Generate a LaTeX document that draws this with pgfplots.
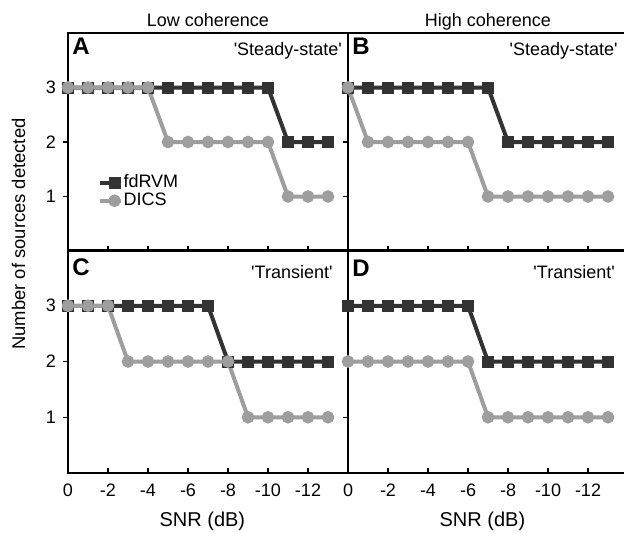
\documentclass[border=0pt]{standalone}
\usepackage{fontspec}
\setmainfont{Liberation Sans}
\newfontfamily\qfont{Liberation Sans}
\usepackage{pgfplots}
\pgfplotsset{compat=1.18}
\definecolor{dk}{gray}{0.2}
\definecolor{lt}{gray}{0.62}

\newcommand{\nf}{\fontsize{9}{10}\selectfont}

\tikzset{
  lab/.style={anchor=north west, inner sep=0pt, font=\fontsize{12}{12}\selectfont\bfseries},
  tag/.style={anchor=north east, inner sep=0pt, font=\nf\qfont},
}

\pgfplotsset{
  panel/.style={
    scale only axis, clip=false,
    x dir=reverse, xmin=-14, xmax=0, ymin=0, ymax=4,
    xtick={0,-2,-4,-6,-8,-10,-12}, ytick={1,2,3},
    xticklabels={0,-2,-4,-6,-8,-10,-12},
    yticklabels={1,2,3},
    xtick pos=bottom, ytick pos=left,
    major tick length=2.3pt,
    ytick style={xshift=-2.3pt},
    tick style={black, line width=0.6pt},
    axis line style={line width=0.6pt},
    every tick label/.append style={font=\nf},
    xticklabel style={anchor=base, yshift=-11.8pt},
    yticklabel style={xshift=-2.5pt},
    title style={at={(0.5,1)}, anchor=base, yshift=-2.5pt, font=\nf},
    xlabel style={at={(0.48,0)}, anchor=base, yshift=-26.5pt, font=\fontsize{10}{11}\selectfont},
  },
  fd/.style={dk, line width=2pt, mark=square*, mark size=2pt, mark options={solid}},
  dc/.style={lt, line width=2pt, mark=*, mark size=2.1pt, mark options={solid}},
}

\begin{document}
\begin{tikzpicture}
\useasboundingbox (0,0) rectangle (312pt,266pt);

% A
\begin{axis}[panel, at={(34pt,140.5pt)}, anchor=south west,
  width=140pt, height=109pt, xticklabels={},
  title={Low coherence},
  legend style={draw=none, fill=none, inner sep=0pt,
    at={(rel axis cs:0.104,0.272)}, anchor=west, row sep=0pt,
    nodes={inner sep=0.5pt, font=\nf}},
  legend cell align=left,
  legend image code/.code={\draw[#1, mark indices={2}] plot coordinates {(0pt,0pt) (7.5pt,0pt) (10.5pt,0pt)};},
]
\addplot[fd] coordinates {(0,3) (-1,3) (-2,3) (-3,3) (-4,3) (-5,3) (-6,3) (-7,3) (-8,3) (-9,3) (-10,3) (-11,2) (-12,2) (-13,2)};
\addplot[dc] coordinates {(0,3) (-1,3) (-2,3) (-3,3) (-4,3) (-5,2) (-6,2) (-7,2) (-8,2) (-9,2) (-10,2) (-11,1) (-12,1) (-13,1)};
\legend{fdRVM,DICS}
\node[lab] at (rel axis cs:0.014,0.977) {A};
\node[tag] at (rel axis cs:0.979,0.959) {'Steady-state'};
\end{axis}

% B
\begin{axis}[panel, at={(174pt,140.5pt)}, anchor=south west,
  width=140pt, height=109pt, xticklabels={}, yticklabels={},
  title={High coherence},
]
\addplot[fd] coordinates {(0,3) (-1,3) (-2,3) (-3,3) (-4,3) (-5,3) (-6,3) (-7,3) (-8,2) (-9,2) (-10,2) (-11,2) (-12,2) (-13,2)};
\addplot[dc] coordinates {(0,3) (-1,2) (-2,2) (-3,2) (-4,2) (-5,2) (-6,2) (-7,1) (-8,1) (-9,1) (-10,1) (-11,1) (-12,1) (-13,1)};
\node[lab] at (rel axis cs:0.014,0.977) {B};
\node[tag] at (rel axis cs:0.964,0.959) {'Steady-state'};
\end{axis}

% C
\begin{axis}[panel, at={(34pt,29.5pt)}, anchor=south west,
  width=140pt, height=111.5pt,
  xlabel={SNR (dB)},
]
\addplot[fd] coordinates {(0,3) (-1,3) (-2,3) (-3,3) (-4,3) (-5,3) (-6,3) (-7,3) (-8,2) (-9,2) (-10,2) (-11,2) (-12,2) (-13,2)};
\addplot[dc] coordinates {(0,3) (-1,3) (-2,3) (-3,2) (-4,2) (-5,2) (-6,2) (-7,2) (-8,2) (-9,1) (-10,1) (-11,1) (-12,1) (-13,1)};
\node[lab] at (rel axis cs:0.014,0.964) {C};
\node[tag] at (rel axis cs:0.946,0.933) {'Transient'};
\end{axis}

% D
\begin{axis}[panel, at={(174pt,29.5pt)}, anchor=south west,
  width=140pt, height=111.5pt, yticklabels={},
  xlabel={SNR (dB)},
]
\addplot[fd] coordinates {(0,3) (-1,3) (-2,3) (-3,3) (-4,3) (-5,3) (-6,3) (-7,2) (-8,2) (-9,2) (-10,2) (-11,2) (-12,2) (-13,2)};
\addplot[dc] coordinates {(0,2) (-1,2) (-2,2) (-3,2) (-4,2) (-5,2) (-6,2) (-7,1) (-8,1) (-9,1) (-10,1) (-11,1) (-12,1) (-13,1)};
\node[lab] at (rel axis cs:0.014,0.955) {D};
\node[tag] at (rel axis cs:0.954,0.933) {'Transient'};
\end{axis}

\node[rotate=90, font=\fontsize{9.2}{10}\selectfont] at (9.3pt,149pt) {Number of sources detected};
\end{tikzpicture}
\end{document}
